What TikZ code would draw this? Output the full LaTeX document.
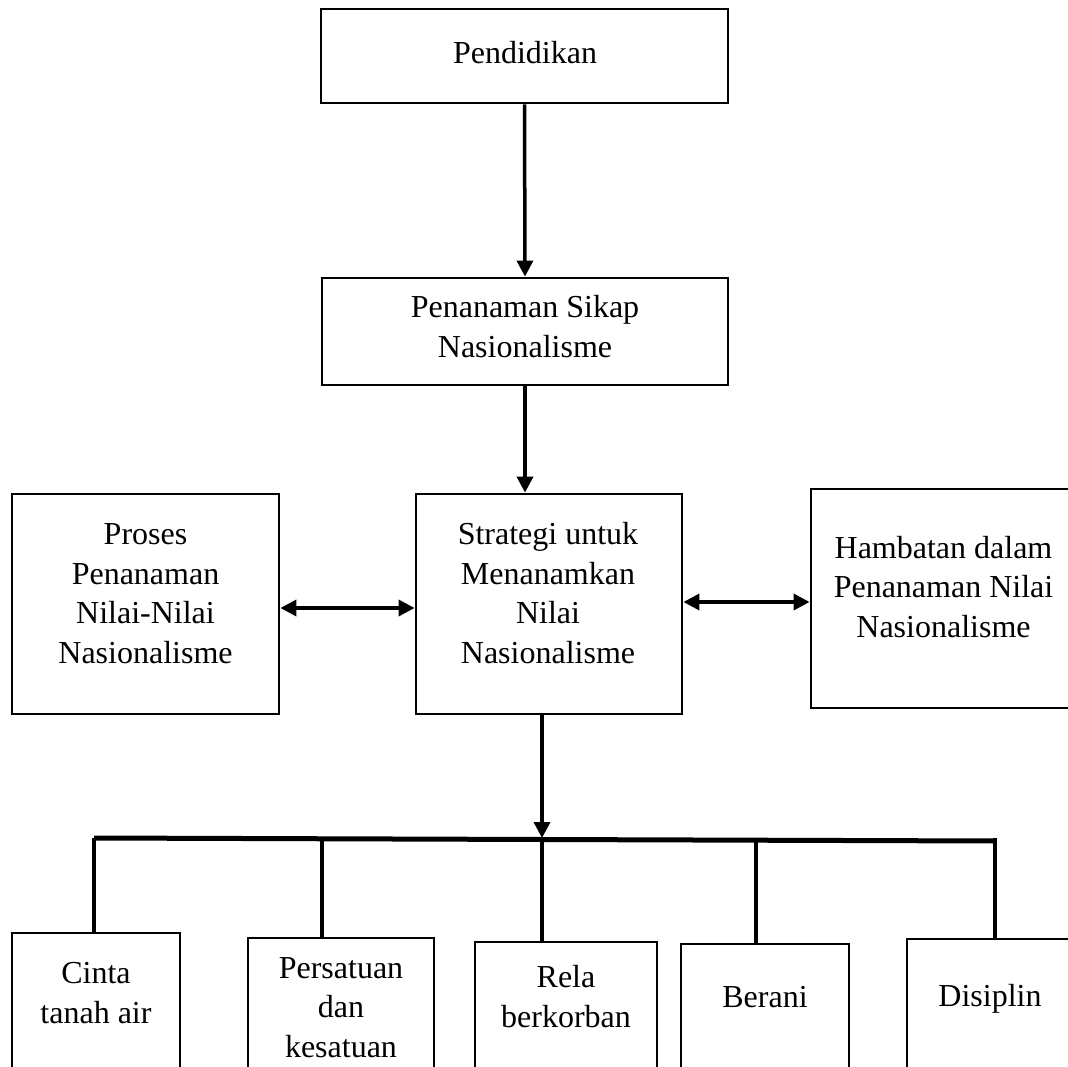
\documentclass[tikz,border=0pt]{standalone}
\usepackage{fontspec}
\setmainfont{Liberation Serif}
\usetikzlibrary{arrows.meta, positioning, calc}

\tikzset{
  frame/.style={draw, line width=2.8pt, inner sep=0pt},
  words/.style={align=center, inner sep=0pt, anchor=base, font=\fontsize{32}{39.5}\selectfont},
  arr/.style={line width=3.5pt, -{Triangle[length=16pt,width=16pt]}},
  dbl/.style={line width=3.5pt, {Triangle[length=16pt,width=16pt]}-{Triangle[length=16pt,width=16pt]}},
  link/.style={line width=4pt}
}

\begin{document}
\begin{tikzpicture}[x=1pt, y=-1pt]
\clip (0,0) rectangle (1068,1067);
\fill[white] (0,0) rectangle (1068,1067);

% top chain
\node[frame, minimum width=407pt, minimum height=94pt] (pend) at (524.5,56) {};
\node[words] (pend-t) at (525,64) {Pendidikan};
\node[frame, minimum width=406pt, minimum height=107pt] (sikap) at (525,331.5) {};
\node[words] (sikap-t) at (525,357) {Penanaman Sikap\\Nasionalisme};

% middle row
\node[frame, minimum width=267pt, minimum height=220pt] (proses) at (145.5,604) {};
\node[words] (proses-t) at (145.5,663) {Proses\\Penanaman\\Nilai-Nilai\\Nasionalisme};
\node[frame, minimum width=266pt, minimum height=220pt] (strat) at (549,604) {};
\node[words] (strat-t) at (548,663) {Strategi untuk\\Menanamkan\\Nilai\\Nasionalisme};
\node[frame, minimum width=265pt, minimum height=219pt] (hamb) at (943.5,598.5) {};
\node[words] (hamb-t) at (943.5,637) {Hambatan dalam\\Penanaman Nilai\\Nasionalisme};

% bottom row (runs off the page)
\node[frame, minimum width=168pt, minimum height=170pt] (cinta) at (96,1018) {};
\node[words] (cinta-t) at (96,1023) {Cinta\\tanah air};
\node[frame, minimum width=186pt, minimum height=170pt] (satu) at (341,1023) {};
\node[words] (satu-t) at (341,1057) {Persatuan\\dan\\kesatuan};
\node[frame, minimum width=182pt, minimum height=170pt] (rela) at (566,1027) {};
\node[words] (rela-t) at (566,1027) {Rela\\berkorban};
\node[frame, minimum width=168pt, minimum height=170pt] (berani) at (765,1029) {};
\node[words] (berani-t) at (765,1007) {Berani};
\node[frame, minimum width=166pt, minimum height=170pt] (disiplin) at (990,1024) {};
\node[words] (disiplin-t) at (990,1006) {Disiplin};

\coordinate (barL) at (94,838);
\coordinate (barR) at (995,841);

% connectors
\draw[arr] (pend.south) -- (sikap.north);
\draw[arr] (sikap.south) -- (sikap.south |- strat.north);
\draw[dbl] ([yshift=-4pt]proses.east) -- ([yshift=-4pt]strat.west);
\draw[dbl] ([yshift=2pt]strat.east) -- ([yshift=-3.5pt]hamb.west);
\draw[arr] ([xshift=-7pt]strat.south) coordinate (down) -- (down |- barL);
\draw[line width=5pt] (barL) -- (barR);
\foreach \n/\dx in {cinta/-2, satu/-19, rela/-24, berani/-9, disiplin/5} {
  \path ([xshift=\dx pt]\n.north) coordinate (top-\n);
  \draw[link] (top-\n) -- (top-\n |- barL);
}
\end{tikzpicture}
\end{document}
